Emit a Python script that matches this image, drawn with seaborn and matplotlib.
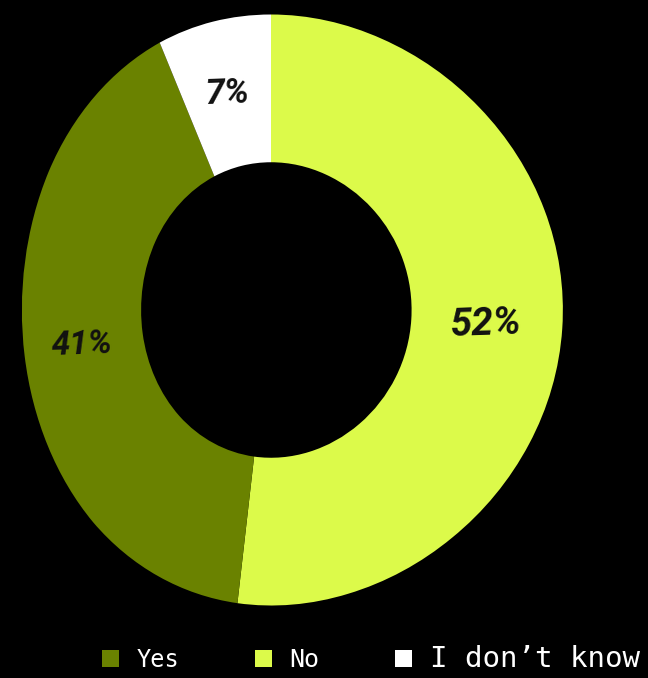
import numpy as np
import seaborn as sns
import matplotlib.pyplot as plt
from matplotlib.patches import Patch
from matplotlib.transforms import Transform

labels = ['No', 'Yes', "I don’t know"]
shares = [52, 41, 7]
colors = ['#dcfa4a', '#6a8200', '#ffffff']
legend_order = ['Yes', 'No', "I don’t know"]


# the reference looks photographed at a slight angle: right side bulges out
class Bulge(Transform):
    input_dims = output_dims = 2

    def __init__(self, k):
        super().__init__()
        self.k = k

    def transform_non_affine(self, xy):
        xy = np.array(xy, dtype=float)
        x = xy[:, 0]
        xy[:, 0] = x * (1 + self.k * x)
        return xy


sns.set_theme(style='dark')
plt.rcParams['font.family'] = ['Roboto', 'DejaVu Sans']

fig = plt.figure(figsize=(6.48, 6.78), dpi=100, facecolor='black')
ax = fig.add_axes([0.5 / 648, 72.5 / 678, 541 / 648, 591 / 678])
ax.set_facecolor('black')

wedges, texts, autotexts = ax.pie(
    shares, colors=colors, startangle=90, counterclock=False,
    wedgeprops=dict(width=0.5, edgecolor='none'),
    autopct='%d%%', pctdistance=0.75, frame=False)
bulge = Bulge(0.079)
for w in wedges:
    w.set_transform(bulge + ax.transData)
for t, size in zip(autotexts, [28, 24, 25]):
    t.set_transform(bulge + ax.transData)
    t.set_fontsize(size)
    t.set_fontweight('bold')
    t.set_fontstyle('italic')
    t.set_color('#111111')
    t.set_rotation(2)
ax.set_aspect('auto')
ax.set_xlim(-1, 1)
ax.set_ylim(-1, 1)
ax.axis('off')

handles = [Patch(facecolor=colors[labels.index(l)], edgecolor='none') for l in legend_order]
leg = fig.legend(handles, legend_order, loc='center', bbox_to_anchor=(0.572, 0.028),
                 ncol=3, frameon=False, handlelength=0.7, handleheight=0.7,
                 handletextpad=0.7, columnspacing=3.0,
                 prop={'family': 'DejaVu Sans Mono', 'size': 18})
for t, size in zip(leg.get_texts(), [17, 18, 21]):
    t.set_color('white')
    t.set_fontsize(size)

fig.savefig('out.png', dpi=100, facecolor='black')
